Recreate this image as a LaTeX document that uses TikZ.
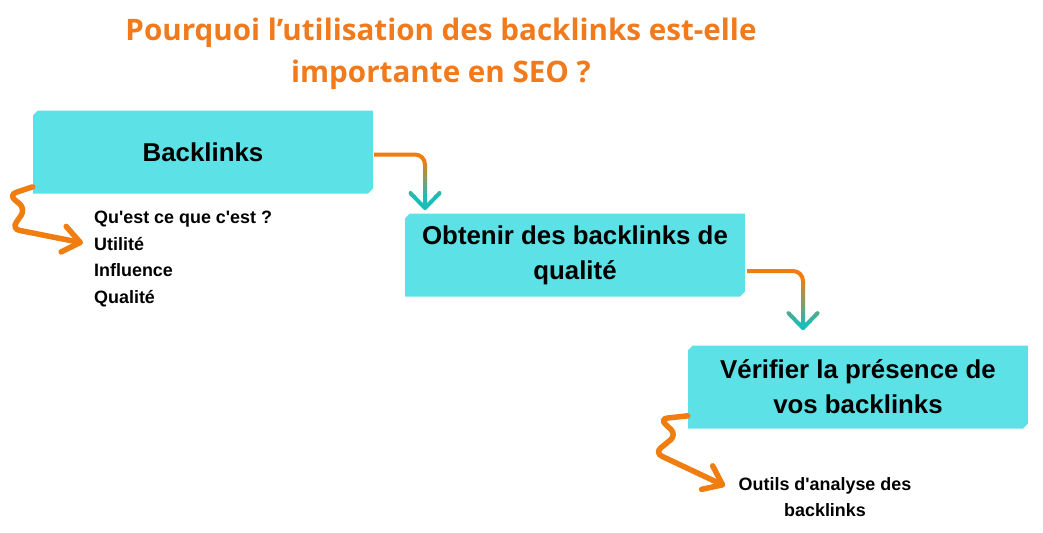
\documentclass[tikz,border=0pt]{standalone}
\usepackage{fontspec}
\setmainfont{Liberation Sans}
\newfontfamily\titlefont{Open Sans}
\usepackage{tikz}
\usetikzlibrary{arrows.meta, shapes.misc, calc}
\definecolor{boxcyan}{HTML}{5CE1E6}
\definecolor{titleorange}{HTML}{F07A1C}
\definecolor{arroworange}{HTML}{EF7D0F}
\definecolor{arrowteal}{HTML}{1BBDB8}
\tikzset{
	box/.style={
		chamfered rectangle,
		chamfered rectangle corners={north west, south east},
		chamfered rectangle xsep=1.4pt,
		chamfered rectangle ysep=1.4pt,
		fill=boxcyan,
		minimum width=6.8cm,
		minimum height=1.66cm,
		inner sep=0pt,
		align=center,
		font=\bfseries\fontsize{14.7}{20}\selectfont
	},
	flow/.style={
		-{Straight Barb[length=0.3cm, width=0.58cm, round]},
		line width=0.08cm,
		rounded corners=0.2cm
	},
	squig/.style={
		-{Straight Barb[length=0.34cm, width=0.52cm, round]},
		draw=arroworange,
		line width=0.11cm,
		line cap=round,
		rounded corners=0.16cm
	},
	smalltext/.style={
		font=\bfseries\fontsize{10.2}{15.2}\selectfont
	}
}

\begin{document}
\begin{tikzpicture}[x=0.02cm, y=-0.02cm]
	\useasboundingbox (0,0) rectangle (1043,532);
	
	% Titre
	\node[font=\titlefont\bfseries\fontsize{16.85}{23.8}\selectfont, text=titleorange, align=center] (title) at (441,54)
		{Pourquoi l’utilisation des backlinks est-elle\\importante en SEO ?};
	
	% Les trois boîtes
	\node[box] (B1) at (203,152) {Backlinks};
	\node[box] (B2) at (575,255) {Obtenir des backlinks de\\qualité};
	\node[box] (B3) at (858,387) {Vérifier la présence de\\vos backlinks};
	
	% Textes sous les boîtes
	\node[smalltext, align=left, anchor=west] (B1list) at (88,259)
		{Qu\textquotesingle est ce que c\textquotesingle est ?\\Utilité\\Influence\\Qualité};
	\node[smalltext, align=center] (B3list) at (825,497)
		{Outils d\textquotesingle analyse des\\backlinks};
	
	% Flèches entre les boîtes (dégradé orange -> turquoise)
	\foreach \k in {0,...,9} {
		\pgfmathtruncatemacro{\pc}{min(100,100*\k/9)}
		\pgfmathsetmacro{\ya}{ifthenelse(\k==0,100,159+4*\k)}
		\pgfmathsetmacro{\yb}{ifthenelse(\k==0,163,ifthenelse(\k==9,240,163+4*\k))}
		\begin{scope}
			\clip (374,\ya) rectangle (470,\yb);
			\draw[flow, draw=arrowteal!\pc!arroworange, shorten >=0.06cm]
				([yshift=-0.05cm]B1.east) -| ($(B2.north)+(-150,0)$);
		\end{scope}
	}
	\foreach \k in {0,...,9} {
		\pgfmathtruncatemacro{\pc}{min(100,100*\k/9)}
		\pgfmathsetmacro{\ya}{ifthenelse(\k==0,200,277+5*\k)}
		\pgfmathsetmacro{\yb}{ifthenelse(\k==0,282,ifthenelse(\k==9,350,282+5*\k))}
		\begin{scope}
			\clip (747,\ya) rectangle (850,\yb);
			\draw[flow, draw=arrowteal!\pc!arroworange, shorten >=0.3cm]
				([yshift=-0.32cm]B2.east) -| ($(B3.north)+(-55,0)$);
		\end{scope}
	}
	
	% Flèches ondulées
	\coordinate (tipA) at (83,243);
	\coordinate (tipB) at (725,486);
	\draw[squig] ($(B1.south west)+(0,-7)$) -- ++(-24,8) -- ++(17,14) -- ++(-14,20) -- (tipA);
	\draw[squig] ($(B3.south west)+(0,-13)$) -- ++(-28,3) -- ++(17,16) -- ++(-22,18) -- (tipB);
\end{tikzpicture}
\end{document}
